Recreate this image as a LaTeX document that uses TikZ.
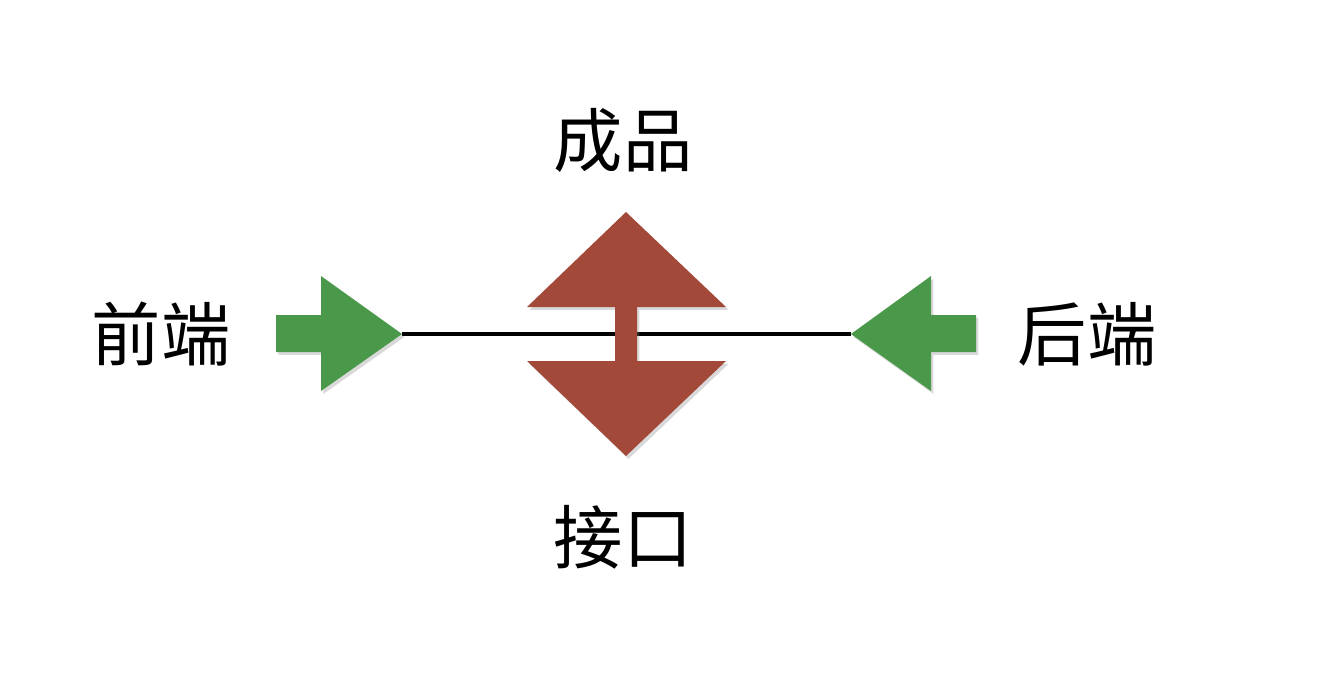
\documentclass[tikz,border=0pt]{standalone}
\usepackage{fontspec}
\newfontfamily\cjk{Noto Sans CJK SC}
\usetikzlibrary{positioning, shadows}
\definecolor{brick}{HTML}{A3493A}
\definecolor{leaf}{HTML}{4A984A}

\begin{document}
\begin{tikzpicture}[x=0.75pt, y=-0.75pt, label/.style={font=\cjk\fontsize{52}{52}\selectfont, inner sep=0pt},
	paper/.style={drop shadow={shadow xshift=1.8pt, shadow yshift=-2.2pt, opacity=0.3}}]
			\useasboundingbox (0,0) rectangle (1336,686);
			\coordinate (ltip) at (402,334);
			\coordinate (rtip) at (851,334);
			\draw[line width=2.6pt] (ltip) -- (rtip);
			% arrows
			\fill[leaf, paper] (276,315) -- (321,315) -- (321,276) -- (ltip) -- (321,391) -- (321,352) -- (276,352) -- cycle;
			\fill[leaf, paper] (976,315) -- (931,315) -- (931,276) -- (rtip) -- (931,391) -- (931,352) -- (976,352) -- cycle;
			\fill[brick, paper] (626,212) -- (726,307) -- (637,307) -- (637,361) -- (726,361) -- (626,456) -- (527,361) -- (615,361) -- (615,307) -- (527,307) -- cycle;
			\node[label] (product) at (623,140) {成品};
			\node[label] (front) at (161,334) {前端};
			\node[label] (back) at (1087,334) {后端};
			\node[label] (api) at (623,537) {接口};
		\end{tikzpicture}
\end{document}
